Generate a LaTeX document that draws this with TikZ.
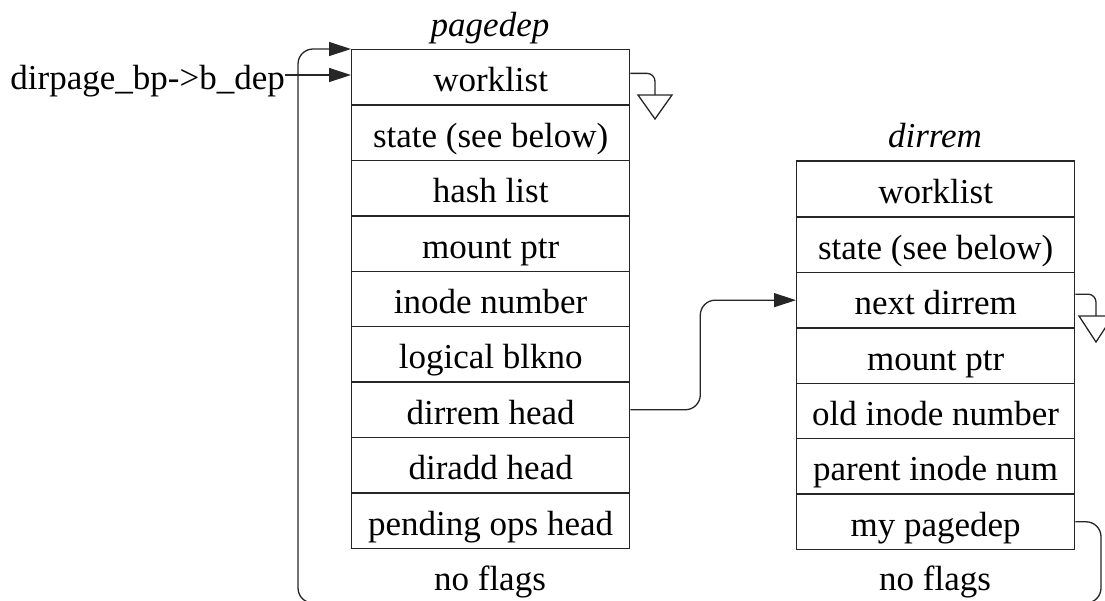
\documentclass[tikz,border=0pt]{standalone}
\usepackage{fontspec}
\setmainfont{Liberation Serif}
\usetikzlibrary{arrows.meta}
\begin{document}
\begin{tikzpicture}[x=1pt,y=-1pt,
  txt/.style={font=\fontsize{35}{40}\selectfont, inner sep=0pt, text height=29pt, text depth=0pt},
  cell/.style={txt, draw=black!85, line width=1.3pt, minimum width=278pt, minimum height=55.4pt, anchor=north west},
  ttl/.style={txt, font=\fontsize{35}{40}\selectfont\itshape},
  conn/.style={draw=black!85, line width=1.3pt, rounded corners=15pt},
  tip/.style={-{Triangle[length=22pt,width=14pt]}}
]
\useasboundingbox (0,0) rectangle (1105,600);
\clip (0,0) rectangle (1105,600);

% pagedep
\node[ttl] (tp) at (490,22) {pagedep};
\node[cell] (p1) at (351,49.0) {worklist};
\node[cell] (p2) at (351,104.4) {state (see below)};
\node[cell] (p3) at (351,159.8) {hash list};
\node[cell] (p4) at (351,215.2) {mount ptr};
\node[cell] (p5) at (351,270.6) {inode number};
\node[cell] (p6) at (351,326.0) {logical blkno};
\node[cell] (p7) at (351,381.4) {dirrem head};
\node[cell] (p8) at (351,436.8) {diradd head};
\node[cell] (p9) at (351,492.2) {pending ops head};
\node[txt] (pf) at (490,576) {no flags};

% dirrem
\node[ttl] (td) at (935,133) {dirrem};
\node[cell] (d1) at (796,161.0) {worklist};
\node[cell] (d2) at (796,216.4) {state (see below)};
\node[cell] (d3) at (796,271.8) {next dirrem};
\node[cell] (d4) at (796,327.2) {mount ptr};
\node[cell] (d5) at (796,382.6) {old inode number};
\node[cell] (d6) at (796,438.0) {parent inode num};
\node[cell] (d7) at (796,493.4) {my pagedep};
\node[txt] (df) at (935,576) {no flags};
\draw[draw=black!85, line width=2.4pt] (d1.north west) -- (d1.north east);

% external pointer
\node[txt, anchor=east] (bp) at (285,75) {dirpage\_bp->b\_dep};
\draw[conn, tip] (bp.east) -- (bp.east -| p1.west);

% dirrem head -> next dirrem
\draw[conn, tip] (p7.east) -- ++(70,0) |- (d3.west);

% my pagedep -> pagedep (loop round the bottom)
\coordinate (lr) at (1101,603);
\coordinate (ll) at (298,603);
\draw[conn, rounded corners=15pt, tip] (d7.east) -| (lr) -- (ll) |- (p1.north west);

% null terminators
\coordinate (g1) at (655,95);
\draw[conn, rounded corners=8pt] ([yshift=4pt]p1.east) -| (g1);
\draw[draw=black!85, line width=1.3pt, line join=miter] ([xshift=-17pt]g1) -- ([xshift=17pt]g1) -- ([yshift=-24pt]g1) -- cycle;

\coordinate (g2) at (1096,316);
\draw[conn, rounded corners=8pt] ([yshift=6pt]d3.east) -| (g2);
\draw[draw=black!85, line width=1.3pt, line join=miter] ([xshift=-17pt]g2) -- ([xshift=17pt]g2) -- ([yshift=-26pt]g2) -- cycle;
\end{tikzpicture}
\end{document}
